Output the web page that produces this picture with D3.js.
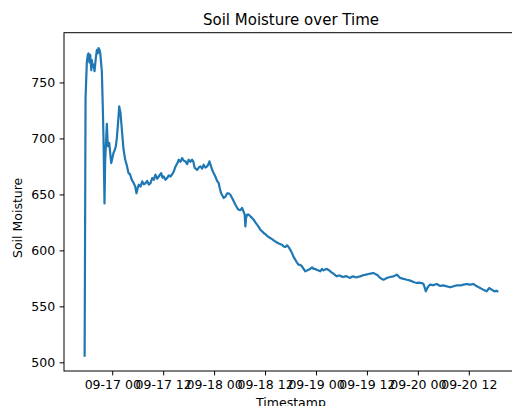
<!DOCTYPE html>
<html>
<head>
<meta charset="utf-8">
<script src="https://cdn.jsdelivr.net/npm/d3@7"></script>
<style>
  html, body { margin: 0; padding: 0; background: #fff; }
  svg { display: block; font-family: "DejaVu Sans", sans-serif; }
</style>
</head>
<body>
<svg id="chart" width="512" height="406"></svg>
<script>
// Sensor readings: timestamp (UTC) and soil moisture
const timestamps = [
  "2023-09-16 17:30","2023-09-16 17:43","2023-09-16 18:01","2023-09-16 18:16","2023-09-16 18:25","2023-09-16 18:37",
  "2023-09-16 18:49","2023-09-16 19:04","2023-09-16 19:12","2023-09-16 19:22","2023-09-16 19:36","2023-09-16 19:50",
  "2023-09-16 20:08","2023-09-16 20:23","2023-09-16 20:35","2023-09-16 20:47","2023-09-16 21:01","2023-09-16 21:11",
  "2023-09-16 21:22","2023-09-16 21:33","2023-09-16 21:46","2023-09-16 21:57","2023-09-16 22:11","2023-09-16 22:20",
  "2023-09-16 22:30","2023-09-16 22:44","2023-09-16 22:58","2023-09-16 23:18","2023-09-16 23:36","2023-09-16 23:46",
  "2023-09-17 00:04","2023-09-17 00:18","2023-09-17 00:37","2023-09-17 00:51","2023-09-17 01:05","2023-09-17 01:19",
  "2023-09-17 01:39","2023-09-17 01:57","2023-09-17 02:16","2023-09-17 02:40","2023-09-17 03:04","2023-09-17 03:26",
  "2023-09-17 03:50","2023-09-17 04:11","2023-09-17 04:37","2023-09-17 05:05","2023-09-17 05:25","2023-09-17 05:43",
  "2023-09-17 06:01","2023-09-17 06:16","2023-09-17 06:40","2023-09-17 07:04","2023-09-17 07:26","2023-09-17 07:50",
  "2023-09-17 08:14","2023-09-17 08:37","2023-09-17 09:01","2023-09-17 09:25","2023-09-17 09:47","2023-09-17 10:11",
  "2023-09-17 10:35","2023-09-17 10:58","2023-09-17 11:32","2023-09-17 11:50","2023-09-17 12:08","2023-09-17 12:32",
  "2023-09-17 12:56","2023-09-17 13:19","2023-09-17 13:43","2023-09-17 14:07","2023-09-17 14:30","2023-09-17 14:49",
  "2023-09-17 15:08","2023-09-17 15:22","2023-09-17 15:40","2023-09-17 16:04","2023-09-17 16:28","2023-09-17 16:51",
  "2023-09-17 17:15","2023-09-17 17:39","2023-09-17 18:01","2023-09-17 18:25","2023-09-17 18:49","2023-09-17 19:08",
  "2023-09-17 19:26","2023-09-17 20:00","2023-09-17 20:23","2023-09-17 20:47","2023-09-17 21:11","2023-09-17 21:33",
  "2023-09-17 21:57","2023-09-17 22:21","2023-09-17 22:40","2023-09-17 22:54","2023-09-17 23:12","2023-09-17 23:32",
  "2023-09-17 23:54",
  "2023-09-18 00:18","2023-09-18 00:42","2023-09-18 01:05","2023-09-18 01:22","2023-09-18 01:39","2023-09-18 01:57",
  "2023-09-18 02:16","2023-09-18 02:40","2023-09-18 03:04","2023-09-18 03:26","2023-09-18 03:50","2023-09-18 04:14",
  "2023-09-18 04:37","2023-09-18 05:01","2023-09-18 05:25","2023-09-18 05:47","2023-09-18 06:11","2023-09-18 06:35",
  "2023-09-18 06:54","2023-09-18 07:12","2023-09-18 07:22","2023-09-18 07:32","2023-09-18 07:46","2023-09-18 08:08",
  "2023-09-18 08:32","2023-09-18 08:56","2023-09-18 09:19","2023-09-18 09:43","2023-09-18 10:07","2023-09-18 10:30",
  "2023-09-18 10:54","2023-09-18 11:18","2023-09-18 11:40","2023-09-18 12:04","2023-09-18 12:28","2023-09-18 13:01",
  "2023-09-18 13:39","2023-09-18 14:11","2023-09-18 14:49","2023-09-18 15:22","2023-09-18 16:00","2023-09-18 16:23",
  "2023-09-18 16:47","2023-09-18 17:11","2023-09-18 17:33","2023-09-18 17:57","2023-09-18 18:21","2023-09-18 18:44",
  "2023-09-18 19:08","2023-09-18 19:32","2023-09-18 19:54","2023-09-18 20:18","2023-09-18 20:42","2023-09-18 21:05",
  "2023-09-18 21:29","2023-09-18 21:53","2023-09-18 22:16","2023-09-18 22:40","2023-09-18 23:04","2023-09-18 23:26",
  "2023-09-18 23:50",
  "2023-09-19 00:14","2023-09-19 00:37","2023-09-19 01:01","2023-09-19 01:25","2023-09-19 01:47","2023-09-19 02:11",
  "2023-09-19 02:35","2023-09-19 02:58","2023-09-19 03:22","2023-09-19 03:46","2023-09-19 04:08","2023-09-19 04:32",
  "2023-09-19 04:56","2023-09-19 05:19","2023-09-19 05:43","2023-09-19 06:07","2023-09-19 06:30","2023-09-19 06:54",
  "2023-09-19 07:18","2023-09-19 07:40","2023-09-19 08:04","2023-09-19 08:28","2023-09-19 08:51","2023-09-19 09:15",
  "2023-09-19 09:39","2023-09-19 10:01","2023-09-19 10:25","2023-09-19 10:49","2023-09-19 11:12","2023-09-19 11:36",
  "2023-09-19 12:00","2023-09-19 12:23","2023-09-19 12:47","2023-09-19 13:11","2023-09-19 13:33","2023-09-19 13:57",
  "2023-09-19 14:21","2023-09-19 14:44","2023-09-19 15:08","2023-09-19 15:32","2023-09-19 15:54","2023-09-19 16:18",
  "2023-09-19 16:42","2023-09-19 17:05","2023-09-19 17:29","2023-09-19 17:53","2023-09-19 18:16","2023-09-19 18:40",
  "2023-09-19 19:04","2023-09-19 19:26","2023-09-19 19:50","2023-09-19 20:14","2023-09-19 20:37","2023-09-19 21:01",
  "2023-09-19 21:25","2023-09-19 21:47","2023-09-19 22:11","2023-09-19 22:35","2023-09-19 22:58","2023-09-19 23:22",
  "2023-09-19 23:46",
  "2023-09-20 00:08","2023-09-20 00:32","2023-09-20 00:56","2023-09-20 01:19","2023-09-20 01:36","2023-09-20 01:53",
  "2023-09-20 02:11","2023-09-20 02:30","2023-09-20 02:54","2023-09-20 03:18","2023-09-20 03:40","2023-09-20 04:04",
  "2023-09-20 04:28","2023-09-20 04:51","2023-09-20 05:15","2023-09-20 05:39","2023-09-20 06:01","2023-09-20 06:25",
  "2023-09-20 06:49","2023-09-20 07:12","2023-09-20 07:36","2023-09-20 08:00","2023-09-20 08:23","2023-09-20 08:47",
  "2023-09-20 09:11","2023-09-20 09:33","2023-09-20 09:57","2023-09-20 10:21","2023-09-20 10:44","2023-09-20 11:08",
  "2023-09-20 11:32","2023-09-20 11:54","2023-09-20 12:18","2023-09-20 12:42","2023-09-20 13:05","2023-09-20 13:29",
  "2023-09-20 13:53","2023-09-20 14:16","2023-09-20 14:40","2023-09-20 15:04","2023-09-20 15:26","2023-09-20 15:50",
  "2023-09-20 16:14","2023-09-20 16:32","2023-09-20 16:51","2023-09-20 17:08","2023-09-20 17:25","2023-09-20 17:47",
  "2023-09-20 18:11","2023-09-20 18:28","2023-09-20 18:44"
];

const moisture = [
  506, 736, 768, 775, 776, 768, 774.7, 761, 770, 764, 766, 760,
  772, 779, 776, 780.7, 779, 776, 768, 760, 730, 699, 642, 680,
  693, 713, 693, 696, 684, 678,
  683, 687, 690, 693, 700, 711, 728.6, 722.7, 708, 690, 681, 676,
  669, 668, 663, 660, 657, 651, 656, 658.7, 657, 661.6, 659, 660,
  662, 658.7, 660, 664.6, 663, 667.6, 664, 666, 669, 665, 666, 663,
  664.6, 667, 666, 668, 670.5, 674, 676.5, 678, 681, 679, 682.5, 680,
  679.5, 677, 681, 679, 681, 679, 673.6, 672, 674, 675, 673, 676.5,
  674, 675, 677, 679.5, 676, 672, 669,
  666, 662, 660, 655, 651, 649, 646.8, 648, 651, 651, 649.7, 646.8,
  644, 640.8, 638, 636.3, 636, 637.9, 635, 631.9, 621.4, 629, 631.9, 632,
  630.4, 629, 627.4, 625, 623, 621, 618.5, 617, 615.5, 614.5, 613, 611.5,
  610, 608.5, 607, 606, 605, 603.5, 603, 604.5, 603, 600.5, 597.7, 594,
  591.7, 589, 587.2, 587, 585.7, 583.5, 581.3, 582, 582.8, 583.5, 584.8, 583.5,
  583.4,
  582.5, 582.1, 581.3, 583.4, 582.1, 583, 583.4, 582.5, 581.3, 580, 579.2, 577.8,
  576.8, 577.5, 577.4, 576.5, 576.2, 577, 576.8, 576, 575.4, 576.5, 576.8, 576,
  575.9, 576.5, 576.8, 577.3, 578, 578.2, 578.6, 578.9, 579.2, 579.5, 579.8, 579,
  578.3, 577, 575.4, 574.5, 573.8, 574.5, 575.4, 575.8, 576.2, 576.5, 576.8, 577.5,
  578.3, 577, 575.4, 575, 574.5, 574.2, 573.8, 573.5, 573, 572.5, 571.8, 571.3,
  570.9,
  571.2, 571, 570.8, 570, 567, 563.4, 566, 567.9, 569.4, 569.2, 568.8, 569.5,
  570, 569, 568.2, 568.5, 568.8, 568.3, 567.9, 567.5, 567, 567.5, 567.9, 568.4,
  568.8, 568.8, 568.8, 569, 569.4, 569.7, 570, 569.7, 569.4, 569.7, 570, 569,
  567.9, 567.2, 566.4, 565.6, 564.9, 564.2, 563.4, 565, 566.4, 565.5, 564.9, 564,
  563.4, 564, 563.5
];

const yTickValues = [500, 550, 600, 650, 700, 750];

const chartTitle = "Soil Moisture over Time";
const xTitle = "Timestamp";
const yTitle = "Soil Moisture";

const parse = d3.utcParse("%Y-%m-%d %H:%M");
const data = timestamps.map((t, i) => ({ t: parse(t), v: moisture[i] }));

// Plot area
const plotLeft = 64, plotRight = 518, plotTop = 32.7, plotBottom = 371;

// Axis limits padded by 5% of the data span on each side
function padded(ext) {
  const span = ext[1] - ext[0];
  return [ext[0] - span * 0.05, ext[1] + span * 0.05];
}
const tExt = d3.extent(data, d => +d.t);
const vExt = d3.extent(data, d => d.v);

const x = d3.scaleUtc().domain(padded(tExt).map(ms => new Date(ms))).range([plotLeft, plotRight]);
const y = d3.scaleLinear().domain(padded(vExt)).range([plotBottom, plotTop]);

const svg = d3.select("#chart");
const fontTick = 12.5;
const tickLen = 4.4;
const tickPad = 4.4;

// Line
const line = d3.line().x(d => x(d.t)).y(d => y(d.v));
svg.append("path")
  .datum(data)
  .attr("d", line)
  .attr("fill", "none")
  .attr("stroke", "#1f77b4")
  .attr("stroke-width", 2.2)
  .attr("stroke-linejoin", "round")
  .attr("stroke-linecap", "square");

// Axes
const xAxis = d3.axisBottom(x)
  .ticks(d3.utcHour.every(12))
  .tickFormat(d3.utcFormat("%m-%d %H"))
  .tickSizeInner(tickLen).tickSizeOuter(0).tickPadding(tickPad);

const yAxis = d3.axisLeft(y)
  .tickValues(yTickValues)
  .tickFormat(d3.format("d"))
  .tickSizeInner(tickLen).tickSizeOuter(0).tickPadding(tickPad);

const gx = svg.append("g").attr("transform", `translate(0,${plotBottom})`).call(xAxis);
const gy = svg.append("g").attr("transform", `translate(${plotLeft},0)`).call(yAxis);

[gx, gy].forEach(g => {
  g.select(".domain").remove();
  g.selectAll(".tick line").attr("stroke", "#000").attr("stroke-width", 1);
  g.selectAll(".tick text")
    .attr("fill", "#000")
    .attr("font-family", "DejaVu Sans, sans-serif")
    .attr("font-size", fontTick);
});

// Frame
svg.append("rect")
  .attr("x", plotLeft).attr("y", plotTop)
  .attr("width", plotRight - plotLeft).attr("height", plotBottom - plotTop)
  .attr("fill", "none").attr("stroke", "#000").attr("stroke-width", 1);

// Titles
svg.append("text")
  .attr("x", (plotLeft + plotRight) / 2).attr("y", 25)
  .attr("text-anchor", "middle")
  .attr("font-size", 15).attr("fill", "#000")
  .text(chartTitle);

svg.append("text")
  .attr("x", (plotLeft + plotRight) / 2).attr("y", 407)
  .attr("text-anchor", "middle")
  .attr("font-size", fontTick).attr("fill", "#000")
  .text(xTitle);

svg.append("text")
  .attr("transform", `translate(22,${(plotTop + plotBottom) / 2 + 16}) rotate(-90)`)
  .attr("text-anchor", "middle")
  .attr("font-size", fontTick).attr("fill", "#000")
  .text(yTitle);
</script>
</body>
</html>
